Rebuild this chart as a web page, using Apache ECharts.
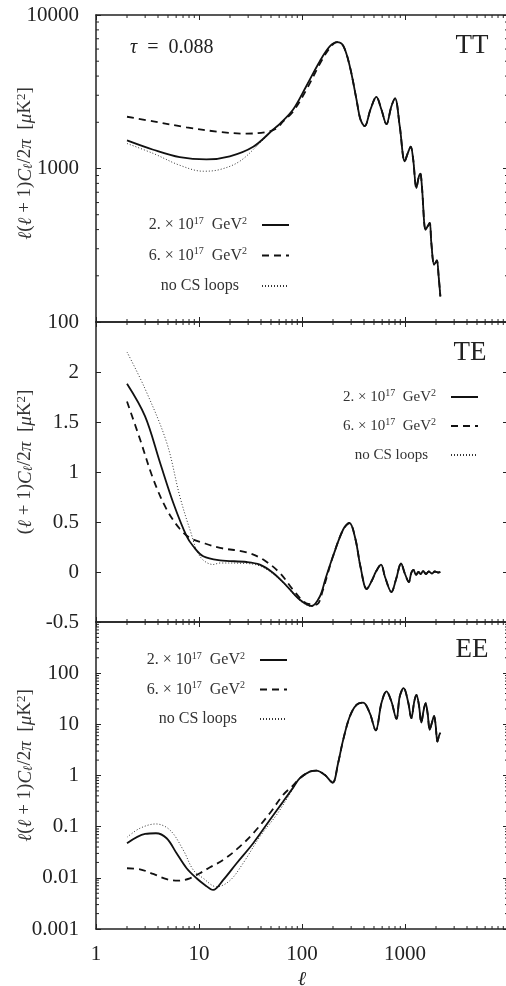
<!DOCTYPE html>
<html><head><meta charset="utf-8">
<script src="https://cdn.jsdelivr.net/npm/echarts@6/dist/echarts.min.js"></script>
<style>html,body{margin:0;padding:0;background:#fff}#c{width:506px;height:986px}</style>
</head><body><div id="c"></div>
<script>
// ---------------- data ----------------
const seriesNames = ['2. × 10^17 GeV^2', '6. × 10^17 GeV^2', 'no CS loops'];
const legendLabels = ['2. × 10{sup|17}  GeV{sup|2}', '6. × 10{sup|17}  GeV{sup|2}', 'no CS loops'];
const panelTitles = ['TT', 'TE', 'EE'];
const tauLabel = '{i|τ}  =  0.088';
const xName = 'ℓ';

// multipole range and tick values
const ellRange = [1, 10000];
const ellMinorTicks = [2,3,4,5,6,7,8,9,20,30,40,50,60,70,80,90,200,300,400,500,600,700,800,900,2000,3000,4000,5000,6000,7000,8000,9000];

// TT panel  [ell, l(l+1)C_l/2pi]
const ttRange = [100, 10000];
const ttMinorTicks = [200,300,400,500,600,700,800,900,2000,3000,4000,5000,6000,7000,8000,9000];
const ttSolidHead = [[2,1524],[3.6,1325],[6.5,1185],[11.8,1145],[19.9,1200],[33.6,1385],[52.5,1795],[60.9,1955]];
const ttDashedHead = [[2,2173],[3.6,2028],[7.58,1853],[16,1730],[29,1687],[45.3,1730],[56.6,1827],[65.6,2028],[82,2350],[110,3250],[149,4800],[186,6100],[219,6650]];
const ttDottedHead = [[2,1455],[3.6,1253],[6.5,1050],[11,960],[16,985],[24.9,1115],[39,1466],[52.5,1780],[60.9,1940]];
const ttMid = [[82,2423],[110,3436],[149,5000],[186,6240],[219,6650]];
const ttTail = [[251,6310],[291,4640],[338,2817],[369,2090],[406,1888],[462,2423],[527,2930],[590,2423],[660,1945],[738,2545],[800,2865],[889,1888],[994,1115],[1060,1250],[1136,1390],[1200,1150],[1290,746],[1360,880],[1410,925],[1460,760],[1585,399],[1660,420],[1738,442],[1800,330],[1915,236],[1990,245],[2043,252],[2120,200],[2205,147]];

// TE panel
const teRange = [-0.5, 2.5];
const teSolidHead = [[2,1.882],[2.99,1.558],[4.18,1.095],[5.62,0.693],[7.58,0.358],[8.79,0.257],[11,0.157],[16,0.117],[29,0.1],[39,0.073],[52.5,-0.01],[70.8,-0.138],[95.3,-0.278],[124,-0.34],[149,-0.245],[170,-0.06]];
const teDashedHead = [[2,1.705],[2.67,1.33],[3.6,0.928],[4.85,0.626],[6.5,0.432],[8.16,0.342],[11,0.291],[16,0.241],[29,0.197],[42,0.124],[61,-0.01],[82,-0.178],[110,-0.312],[138,-0.325],[160,-0.178],[175,-0.04]];
const teDottedHead = [[2,2.2],[3,1.83],[4.85,1.296],[6.5,0.76],[8.16,0.425],[10.2,0.157],[13.7,0.075],[16,0.09],[29,0.085],[39,0.06],[52.5,-0.02],[70.8,-0.145],[95.3,-0.285],[124,-0.345],[149,-0.245],[170,-0.06]];
const teTail = [[200,0.157],[251,0.425],[289,0.49],[330,0.33],[370,0.05],[425,-0.17],[480,-0.08],[520,0.0],[585,0.073],[640,-0.05],[738,-0.2],[820,-0.07],[915,0.085],[1000,-0.02],[1090,-0.1],[1150,-0.01],[1210,0.02],[1280,-0.03],[1350,0.0],[1420,-0.02],[1500,0.01],[1600,-0.02],[1700,0.005],[1820,-0.015],[1950,0.005],[2100,-0.005],[2205,0.0]];

// EE panel
const eeRange = [0.001, 1000];
const eeMinorTicks = [0.002,0.003,0.004,0.005,0.006,0.007,0.008,0.009,0.02,0.03,0.04,0.05,0.06,0.07,0.08,0.09,0.2,0.3,0.4,0.5,0.6,0.7,0.8,0.9,2,3,4,5,6,7,8,9,20,30,40,50,60,70,80,90,200,300,400,500,600,700,800,900];
const eeSolidHead = [[2,0.0474],[3,0.072],[3.82,0.0744],[4.85,0.0594],[6.06,0.0302],[7.58,0.0154],[9.47,0.0098],[11.4,0.00726],[13.7,0.0058],[17.2,0.0091],[23.2,0.0193],[33.6,0.0474],[48.7,0.135],[65.6,0.309],[82,0.58]];
const eeDashedHead = [[2,0.0154],[2.67,0.0147],[3.6,0.0119],[4.85,0.0094],[6.29,0.0088],[8.16,0.0098],[10.2,0.0123],[12.8,0.0161],[17.2,0.0224],[24.9,0.0407],[33.6,0.0744],[48.7,0.183],[65.6,0.418],[82,0.64]];
const eeDottedHead = [[2,0.062],[2.67,0.093],[3.82,0.113],[5.22,0.086],[7.03,0.035],[8.79,0.0143],[11,0.0098],[14.8,0.0067],[19.9,0.0088],[26.8,0.0193],[39,0.0638],[56.6,0.17],[76,0.43]];
const eeTail = [[95.3,0.885],[119,1.19],[138,1.25],[166,1.03],[198,0.726],[224,1.74],[251,4.97],[291,14.2],[338,24],[392,26.6],[455,16.5],[520,7.6],[590,25.9],[660,44],[738,27.9],[826,12.8],[889,34.9],[971,50.9],[1070,27.9],[1153,13.2],[1230,28],[1290,37.6],[1360,25],[1442,10.8],[1510,18],[1585,26],[1660,16],[1738,7.8],[1830,11],[1915,14.6],[1990,9],[2062,4.6],[2140,6],[2205,6.9]];

// ---------------- build ----------------
const FONT = '"Liberation Serif", "DejaVu Serif", serif';
const INK = '#222';
const grids = [
  {left: 96, top: 15, width: 412, height: 307, outerBoundsMode: 'none', containLabel: false},
  {left: 96, top: 322, width: 412, height: 300, outerBoundsMode: 'none', containLabel: false},
  {left: 96, top: 622, width: 412, height: 307, outerBoundsMode: 'none', containLabel: false}
];
const yDefs = [
  {type: 'log', range: ttRange, minor: ttMinorTicks, showMax: true},
  {type: 'value', range: teRange, minor: [], showMax: false, interval: 0.5},
  {type: 'log', range: eeRange, minor: eeMinorTicks, showMax: false}
];
const numFmt = v => String(+Number(v).toPrecision(6));
const axisLine = {show: true, onZero: false, lineStyle: {color: INK, width: 1.5}};
const majorTick = {show: true, inside: true, length: 5, lineStyle: {color: INK, width: 1}};

const yName = '{i|ℓ}({i|ℓ} + 1){i|C}{sub|ℓ}/2{i|π}  [{i|μ}K{sup|2}]';
const yNameTE = '({i|ℓ} + 1){i|C}{sub|ℓ}/2{i|π}  [{i|μ}K{sup|2}]';
const nameRich = {
  i: {fontFamily: FONT, fontStyle: 'italic', fontSize: 19, color: '#333'},
  sub: {fontFamily: FONT, fontStyle: 'italic', fontSize: 13, color: '#333', padding: [7, 0, 0, 0]},
  sup: {fontFamily: FONT, fontSize: 13, color: '#333', padding: [0, 0, 8, 0]}
};

const xAxis = [], yAxis = [], series = [];
grids.forEach((g, gi) => {
  const isBottom = gi === 2;
  xAxis.push({
    gridIndex: gi, type: 'log', logBase: 10, min: ellRange[0], max: ellRange[1], position: 'bottom',
    axisLine, axisTick: majorTick, splitLine: {show: false},
    axisLabel: {show: isBottom, showMaxLabel: false, margin: 15, fontFamily: FONT, fontSize: 21, color: INK, formatter: numFmt},
    name: isBottom ? xName : '', nameLocation: 'middle', nameGap: 41, nameMoveOverlap: false,
    nameTextStyle: {fontFamily: FONT, fontStyle: 'italic', fontSize: 20, color: INK}
  });
  xAxis.push({
    gridIndex: gi, type: 'log', logBase: 10, min: ellRange[0], max: ellRange[1], position: 'top',
    axisLine, axisTick: majorTick, splitLine: {show: false}, axisLabel: {show: false}
  });
  const yd = yDefs[gi];
  const yBase = {gridIndex: gi, type: yd.type, min: yd.range[0], max: yd.range[1], splitLine: {show: false}};
  if (yd.type === 'log') yBase.logBase = 10;
  if (yd.interval) yBase.interval = yd.interval;
  yAxis.push(Object.assign({}, yBase, {
    position: 'left', axisLine, axisTick: majorTick,
    axisLabel: {show: true, showMaxLabel: yd.showMax, margin: 17, fontFamily: FONT, fontSize: 21, color: INK, formatter: numFmt},
    name: gi === 1 ? yNameTE : yName, nameLocation: 'middle', nameGap: 60, nameMoveOverlap: false,
    nameTextStyle: {fontFamily: FONT, fontSize: 19, color: '#333', rich: nameRich, padding: gi === 0 ? [0, 0, 0, 10] : [0, 0, 0, 20]}
  }));
  yAxis.push(Object.assign({}, yBase, {
    position: 'right', axisLine, axisTick: majorTick, axisLabel: {show: false}
  }));
});

const panelData = [
  [ttSolidHead.concat(ttMid, ttTail), ttDashedHead.concat(ttTail), ttDottedHead.concat(ttMid, ttTail)],
  [teSolidHead.concat(teTail), teDashedHead.concat(teTail), teDottedHead.concat(teTail)],
  [eeSolidHead.concat(eeTail), eeDashedHead.concat(eeTail), eeDottedHead.concat(eeTail)]
];
const lineStyles = [
  {color: '#111', width: 1.8, type: 'solid'},
  {color: '#111', width: 1.8, type: [7, 5]},
  {color: '#333', width: 1, type: [1, 2]}
];
panelData.forEach((arr, gi) => {
  arr.forEach((d, si) => {
    series.push({
      name: seriesNames[si], type: 'line', xAxisIndex: gi * 2, yAxisIndex: gi * 2,
      data: d, symbol: 'none', smooth: 0.35, lineStyle: lineStyles[si], itemStyle: {color: '#111'},
      z: 3 - si, animation: false
    });
  });
});

// minor ticks (log axes) drawn through the axes' own scales
grids.forEach((g, gi) => {
  const yd = yDefs[gi];
  series.push({
    type: 'custom', xAxisIndex: gi * 2, yAxisIndex: gi * 2, silent: true, clip: false, z: 5, animation: false,
    data: ellMinorTicks.map(v => [v, yd.range[0]]),
    renderItem: (p, api) => {
      const a = api.coord([api.value(0), yd.range[0]]);
      const b = api.coord([api.value(0), yd.range[1]]);
      return {type: 'group', children: [
        {type: 'line', shape: {x1: a[0], y1: a[1], x2: a[0], y2: a[1] - 3}, style: {stroke: INK, lineWidth: 1}},
        {type: 'line', shape: {x1: b[0], y1: b[1], x2: b[0], y2: b[1] + 3}, style: {stroke: INK, lineWidth: 1}}
      ]};
    }
  });
  if (yd.minor.length) {
    series.push({
      type: 'custom', xAxisIndex: gi * 2, yAxisIndex: gi * 2, silent: true, clip: false, z: 5, animation: false,
      data: yd.minor.map(v => [ellRange[0], v]),
      renderItem: (p, api) => {
        const a = api.coord([ellRange[0], api.value(1)]);
        const b = api.coord([ellRange[1], api.value(1)]);
        return {type: 'group', children: [
          {type: 'line', shape: {x1: a[0], y1: a[1], x2: a[0] + 3, y2: a[1]}, style: {stroke: INK, lineWidth: 1}},
          {type: 'line', shape: {x1: b[0], y1: b[1], x2: b[0] - 3, y2: b[1]}, style: {stroke: INK, lineWidth: 1}}
        ]};
      }
    });
  }
});

const legendPos = [
  {right: 216, top: 215, fontSize: 16, itemGap: 10.5},
  {right: 27, top: 387, fontSize: 15, itemGap: 9},
  {right: 218, top: 650, fontSize: 16, itemGap: 9.5}
];
const legend = legendPos.map(lp => ({
  orient: 'vertical', right: lp.right, top: lp.top, align: 'right', itemWidth: 27, itemHeight: 10,
  itemGap: lp.itemGap, selectedMode: false, padding: 0,
  itemStyle: {opacity: 0},
  data: seriesNames.map((n, i) => ({name: n, textStyle: {padding: i === 2 ? [0, 18, 0, 0] : [0, 10, 0, 0]}})),
  formatter: n => legendLabels[seriesNames.indexOf(n)],
  textStyle: {fontFamily: FONT, fontSize: lp.fontSize, color: '#333', lineHeight: 20,
    rich: {sup: {fontFamily: FONT, fontSize: Math.round(lp.fontSize * 0.65), color: '#333', padding: [0, 0, 8, 0]}}}
}));

const titlePos = [[472, 46], [470, 353], [472, 650]];
const graphic = panelTitles.map((t, i) => ({
  type: 'text', x: titlePos[i][0], y: titlePos[i][1], z: 10,
  style: {text: t, font: '27px ' + FONT, fill: '#222', align: 'center', verticalAlign: 'middle'}
}));
graphic.push({
  type: 'text', x: 130, y: 48, z: 10,
  style: {text: tauLabel, fontFamily: FONT, fontSize: 20, fill: '#222', align: 'left', verticalAlign: 'middle',
    rich: {i: {fontFamily: FONT, fontStyle: 'italic', fontSize: 20, fill: '#222'}}}
});

const chart = echarts.init(document.getElementById('c'), null, {renderer: 'canvas'});
chart.setOption({animation: false, backgroundColor: '#fff', grid: grids, xAxis, yAxis, series, legend, graphic});
</script></body></html>
